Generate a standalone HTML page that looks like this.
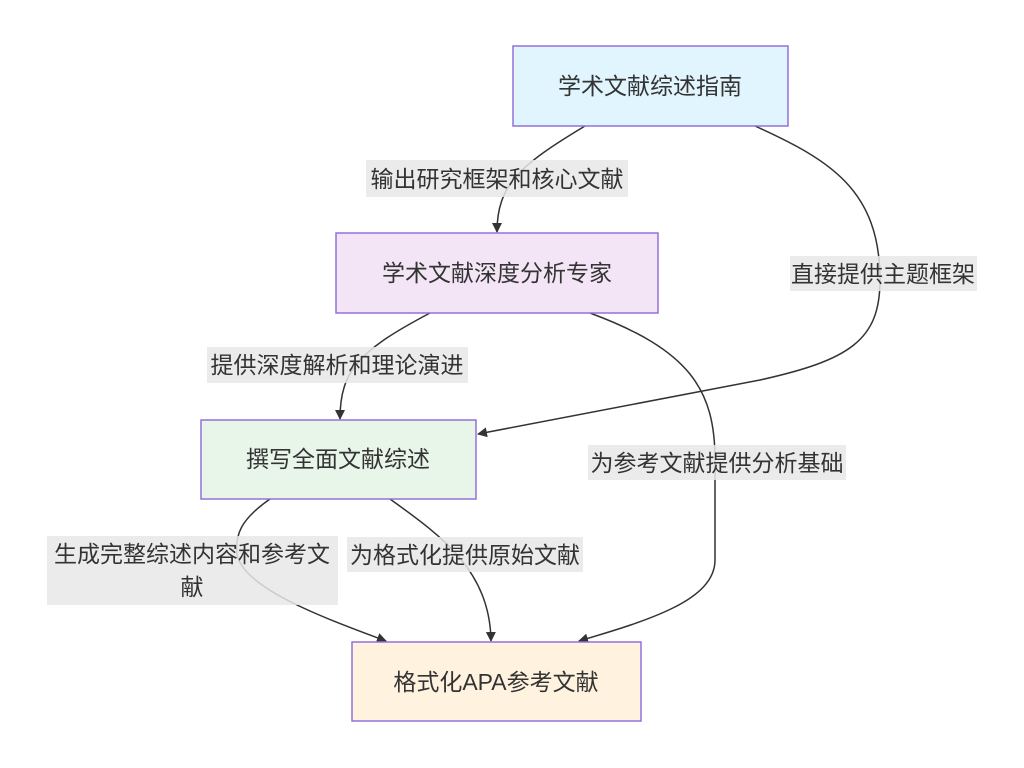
<!DOCTYPE html>
<html><head><meta charset="utf-8"><style>
html,body{margin:0;padding:0;background:#fff;width:1024px;height:768px;overflow:hidden}
text{font-family:"Liberation Sans","Noto Sans CJK SC",sans-serif;font-size:23px;fill:#333}
</style></head><body>
<svg width="1024" height="768" viewBox="0 0 1024 768" xmlns="http://www.w3.org/2000/svg">
<defs><marker id="ar" viewBox="0 0 10 10" refX="9" refY="5" markerWidth="10" markerHeight="10" markerUnits="userSpaceOnUse" orient="auto"><path d="M0,0L10,5L0,10z" fill="#333"/></marker></defs>
<g fill="none" stroke="#333" stroke-width="1.5">
<path d="M585,126 C520,165 497,185 497,232" marker-end="url(#ar)"/>
<path d="M755,126 C830,160 880,190 880,280 C880,340 850,360 760,380 L478,434" marker-end="url(#ar)"/>
<path d="M430,313 C360,350 340,370 340,419" marker-end="url(#ar)"/>
<path d="M590,313 C690,350 715,390 715,460 L715,560 C715,600 650,620 579,641" marker-end="url(#ar)"/>
<path d="M270,499 C240,520 235,535 237,555 C245,590 330,620 386,641" marker-end="url(#ar)"/>
<path d="M390,499 C440,535 490,570 491,641" marker-end="url(#ar)"/>
</g>
<g fill="#e8e8e8" fill-opacity="0.85">
<rect x="366" y="160" width="262" height="37"/>
<rect x="790" y="256" width="187" height="35"/>
<rect x="207" y="347" width="261" height="36"/>
<rect x="588" y="445" width="258" height="35"/>
<rect x="47" y="536" width="291" height="69"/>
<rect x="347" y="537" width="236" height="35"/>
</g>
<text x="497" y="187" text-anchor="middle">输出研究框架和核心文献</text>
<text x="883" y="282" text-anchor="middle">直接提供主题框架</text>
<text x="337" y="373" text-anchor="middle">提供深度解析和理论演进</text>
<text x="717" y="471" text-anchor="middle">为参考文献提供分析基础</text>
<text x="192" y="562" text-anchor="middle">生成完整综述内容和参考文</text>
<text x="192" y="595" text-anchor="middle">献</text>
<text x="465" y="563" text-anchor="middle">为格式化提供原始文献</text>
<g stroke="#9370db" stroke-width="1.5">
<rect x="513" y="46" width="275" height="80" fill="#e1f5fe"/>
<rect x="336" y="233" width="322" height="80" fill="#f3e5f5"/>
<rect x="201" y="420" width="275" height="79" fill="#e8f5e9"/>
<rect x="352" y="642" width="289" height="79" fill="#fff3e0"/>
</g>
<text x="650" y="94" text-anchor="middle">学术文献综述指南</text>
<text x="497" y="281" text-anchor="middle">学术文献深度分析专家</text>
<text x="338" y="467" text-anchor="middle">撰写全面文献综述</text>
<text x="496" y="690" text-anchor="middle">格式化APA参考文献</text>
</svg>
</body></html>
